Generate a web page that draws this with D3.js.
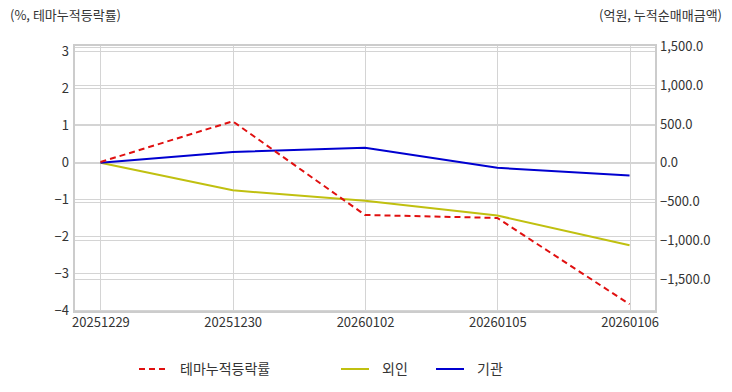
<!DOCTYPE html>
<html><head><meta charset="utf-8">
<script src="https://cdn.jsdelivr.net/npm/d3@7"></script>
<style>body{margin:0;background:#fff;}svg{display:block;font-family:"Noto Sans CJK KR","Noto Sans",sans-serif;}</style>
</head><body><svg id="c" width="732" height="392"></svg>
<script>
const dates = ["20251229","20251230","20260102","20260105","20260106"];
const themeRate = [0, 1.1, -1.43, -1.51, -3.84];
const foreign = [0, -355, -490, -680, -1065];
const institution = [0, 140, 195, -65, -165];
const leftTicks = [3,2,1,0,-1,-2,-3,-4];
const rightTicks = [1500,1000,500,0,-500,-1000,-1500];
const seriesNames = ["테마누적등락률","외인","기관"];
const colors = ["#e01010","#c0c010","#0000d0"];

const svg = d3.select("#c");
const L=74, R=656, T=45, B=312;
const x = d3.scalePoint().domain(dates).range([L,R]).padding(0.2);
const yL = d3.scaleLinear().domain([-4.05,3.16]).range([B,T]);
const yR = d3.scaleLinear().domain([-1925,1520]).range([B,T]);

const grid = svg.append("g").attr("stroke","#d4d4d4").attr("stroke-width",1);
leftTicks.forEach(t=>grid.append("line").attr("x1",L).attr("x2",R).attr("y1",Math.round(yL(t))+0.5).attr("y2",Math.round(yL(t))+0.5));
rightTicks.forEach(t=>grid.append("line").attr("x1",L).attr("x2",R).attr("y1",Math.round(yR(t))+0.5).attr("y2",Math.round(yR(t))+0.5));
dates.forEach(d=>grid.append("line").attr("y1",T).attr("y2",B).attr("x1",Math.round(x(d))+0.5).attr("x2",Math.round(x(d))+0.5));
svg.append("rect").attr("x",L).attr("y",T).attr("width",R-L).attr("height",B-T).attr("fill","none").attr("stroke","#cccccc").attr("stroke-width",2);

const axL = svg.append("g").attr("transform",`translate(${L-4},0)`).call(d3.axisLeft(yL).tickValues(leftTicks).tickSize(0).tickPadding(1).tickFormat(d3.format("d")));
const axR = svg.append("g").attr("transform",`translate(${R+2},0)`).call(d3.axisRight(yR).tickValues(rightTicks).tickSize(0).tickPadding(2).tickFormat(d3.format(",.1f")));
const axB = svg.append("g").attr("transform",`translate(0,${B+2})`).call(d3.axisBottom(x).tickSize(0).tickPadding(4));
[axL,axR,axB].forEach(a=>{a.select(".domain").remove();a.selectAll("text").attr("font-size",13).attr("fill","#333").attr("font-family","'Noto Sans CJK KR',sans-serif");});

const lineL = d3.line().x((d,i)=>x(dates[i])).y(d=>yL(d));
const lineR = d3.line().x((d,i)=>x(dates[i])).y(d=>yR(d));
svg.append("path").datum(foreign).attr("d",lineR).attr("fill","none").attr("stroke",colors[1]).attr("stroke-width",2);
svg.append("path").datum(institution).attr("d",lineR).attr("fill","none").attr("stroke",colors[2]).attr("stroke-width",2);
svg.append("path").datum(themeRate).attr("d",lineL).attr("fill","none").attr("stroke",colors[0]).attr("stroke-width",2).attr("stroke-dasharray","6,4");

svg.append("text").attr("x",10).attr("y",20).attr("font-size",13).attr("fill","#333").text("(%, 테마누적등락률)");
svg.append("text").attr("x",722).attr("y",20).attr("text-anchor","end").attr("font-size",13).attr("fill","#333").text("(억원, 누적순매매금액)");

const leg = [{x:139,tx:180},{x:341,tx:382},{x:436,tx:477}];
leg.forEach((p,i)=>{
  svg.append("line").attr("x1",p.x).attr("x2",p.x+28).attr("y1",369).attr("y2",369).attr("stroke",colors[i]).attr("stroke-width",2).attr("stroke-dasharray",i===0?"6,4":null);
  svg.append("text").attr("x",p.tx).attr("y",374).attr("font-size",14).attr("fill","#333").text(seriesNames[i]);
});
</script></body></html>
